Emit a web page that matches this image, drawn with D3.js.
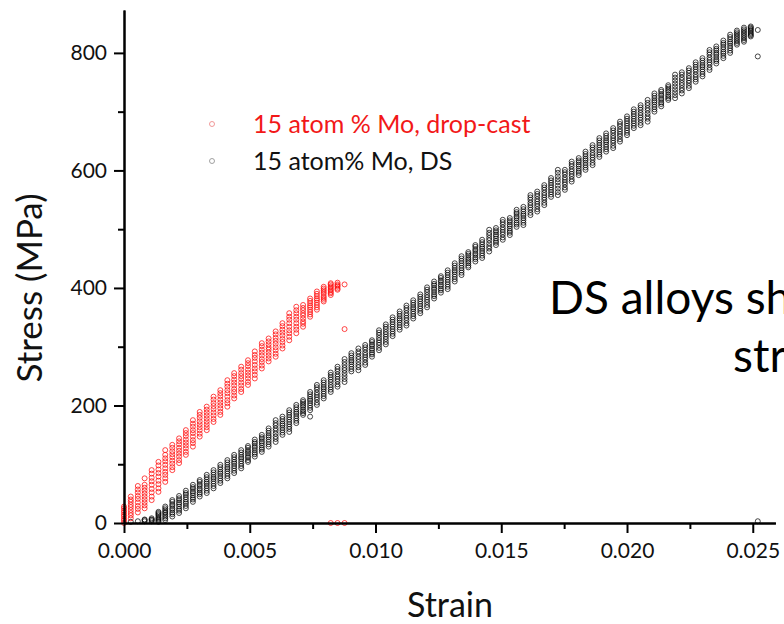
<!DOCTYPE html>
<html lang="en">
<head>
<meta charset="UTF-8">
<title>Stress vs Strain</title>
<style>
  *{margin:0;padding:0;}
  body{background:#fff;}
  svg{display:block;font-family:Lato, "Open Sans", sans-serif;}
</style>
</head>
<body>
<div id="container"></div>
<script src="https://cdn.jsdelivr.net/npm/d3@7/dist/d3.min.js"></script>
<script>
// drop-cast series: strain of each load step and the stress readings logged at it
const redStrain = [0, 0.00027, 0.00055, 0.00082, 0.0011, 0.00137, 0.00164, 0.00192, 0.00219, 0.00246,
  0.00274, 0.00301, 0.00329, 0.00356, 0.00383, 0.00411, 0.00438, 0.00466, 0.00493, 0.0052,
  0.00548, 0.00575, 0.00603, 0.0063, 0.00657, 0.00685, 0.00712, 0.0074, 0.00767, 0.00794,
  0.00822, 0.00849, 0.00877]
const redStress = [
  [0,4,7,11,14,18,21,25,28], [8,13,17,22,27,31,36,40,45], [18,24,29,35,41,46,52,57,63],
  [25,30,35,40,45,50,55,60,65,76], [39,45,52,58,65,71,77,84,90], [53,59,66,72,79,85,91,98,104],
  [70,76,82,87,93,99,105,110,116,124], [90,95,101,106,112,117,122,128,133], [102,107,113,118,123,128,134,139,144],
  [116,121,127,132,137,142,148,153,158], [130,136,141,147,153,158,164,169,175], [147,152,158,163,168,173,179,184,189],
  [158,163,168,173,178,183,188,193,198], [172,177,183,188,194,199,204,210,215], [184,189,195,200,205,210,216,221,226],
  [198,204,209,215,221,226,232,237,243], [212,217,223,228,234,239,244,250,255], [223,228,234,239,245,250,255,261,266],
  [235,240,246,251,256,261,267,272,277], [246,252,258,263,269,275,281,286,292], [263,268,274,279,285,290,295,301,306],
  [275,280,285,290,295,299,304,309,314], [283,288,294,299,305,310,315,321,326], [297,302,308,313,319,324,329,335,340],
  [311,317,323,328,334,340,346,351,357], [323,329,334,340,346,351,357,362,368], [334,339,343,348,353,357,362,366,371],
  [351,355,359,363,367,370,374,378,382], [363,367,371,375,379,382,386,390,394], [377,380,383,386,390,393,396,399,402],
  [388,391,393,396,398,401,403,406,408,0], [397,399,402,404,406,409,0], [406,330,0]
]

// DS series
const dsStrain = [0.00027, 0.00055, 0.00082, 0.0011, 0.00137, 0.00164, 0.00192, 0.00219, 0.00246, 0.00274,
  0.00301, 0.00329, 0.00356, 0.00383, 0.00411, 0.00438, 0.00466, 0.00493, 0.0052, 0.00548,
  0.00575, 0.00603, 0.0063, 0.00657, 0.00685, 0.00712, 0.0074, 0.00767, 0.00794, 0.00822,
  0.00849, 0.00877, 0.00904, 0.00932, 0.00959, 0.00986, 0.01014, 0.01041, 0.01068, 0.01096,
  0.01123, 0.0115, 0.01178, 0.01205, 0.01233, 0.0126, 0.01287, 0.01315, 0.01342, 0.01369,
  0.01397, 0.01424, 0.01452, 0.01479, 0.01506, 0.01534, 0.01561, 0.01588, 0.01616, 0.01643,
  0.01671, 0.01698, 0.01725, 0.01753, 0.0178, 0.01808, 0.01835, 0.01863, 0.0189, 0.01917,
  0.01945, 0.01972, 0.02, 0.02027, 0.02054, 0.02082, 0.02109, 0.02136, 0.02164, 0.02191,
  0.02218, 0.02246, 0.02273, 0.023, 0.02328, 0.02355, 0.02383, 0.0241, 0.02437, 0.02465,
  0.02492, 0.0252]
const dsStress = [
  [2], [3], [3,5,6], [3,5,6,8], [2,4,6,8,10,13,15,17,19], [5,8,11,14,17,19,22,25,28],
  [11,15,18,22,25,29,32,36,39], [17,21,24,28,32,35,39,42,46], [25,29,33,36,40,44,48,51,55],
  [36,40,43,47,51,54,58,61,65], [45,49,52,56,59,63,66,70,73], [51,55,59,63,67,70,74,78,82],
  [59,63,67,71,75,78,82,86,90], [68,72,76,80,84,87,91,95,99], [76,80,84,88,92,95,99,103,107],
  [85,89,93,97,101,104,108,112,116], [93,97,101,105,109,112,116,120,124], [104,107,111,114,118,121,124,128,131],
  [113,117,120,124,128,131,135,138,142], [121,125,128,132,136,139,143,146,150], [130,134,138,142,146,149,153,157,161],
  [138,143,147,152,157,161,166,170,175], [150,154,158,162,166,169,173,177,181], [160,164,168,172,176,180,184,188,192,155],
  [170,174,178,182,186,189,193,197,201], [184,187,190,193,197,200,203,206,209], [192,196,200,204,208,211,215,219,223,181],
  [201,205,210,214,218,222,227,231,235], [212,216,220,224,228,231,235,239,243], [223,227,231,235,240,244,248,252,256],
  [232,236,241,245,249,253,258,262,266], [240,245,250,255,260,264,269,274,279], [258,262,266,270,274,277,281,285,289],
  [260,265,269,274,279,283,288,292,297], [269,273,278,282,286,290,295,299,303], [283,287,290,294,297,301,304,308,311],
  [294,298,303,307,311,315,320,324,328], [304,308,313,317,321,325,330,334,338], [318,322,326,330,334,338,342,346,350],
  [329,333,337,341,345,348,352,356,360], [336,340,345,349,353,357,362,366,370], [348,352,356,360,364,367,371,375,379],
  [357,361,365,369,373,377,381,385,389], [367,371,376,380,384,388,393,397,401], [382,386,389,393,397,400,404,407,411],
  [392,396,399,403,406,410,413,417,420], [398,402,406,410,414,418,422,426,430], [411,415,419,423,427,430,434,438,442],
  [422,426,430,434,438,442,446,450,454], [435,438,442,445,448,451,455,458,461], [445,449,452,456,459,463,466,470,473],
  [451,455,459,463,467,470,474,478,482], [462,467,471,476,481,485,490,494,499], [473,477,480,484,488,491,495,498,502],
  [482,486,491,495,499,503,508,512,516], [490,494,497,501,505,508,512,515,519], [504,508,511,515,519,522,526,529,533],
  [507,511,515,519,523,526,530,534,538], [524,528,533,537,541,545,550,554,558], [530,534,539,543,547,551,556,560,564],
  [541,545,550,554,558,562,567,571,575], [555,559,563,567,571,575,579,583,587], [558,563,569,574,580,585,590,596,601],
  [567,571,576,580,584,588,593,597,601], [581,585,590,594,598,602,607,611,615], [592,596,599,603,607,610,614,617,621],
  [601,605,609,613,617,620,624,628,632], [609,613,618,622,626,630,635,639,643], [623,627,631,635,639,643,647,651,655],
  [632,636,640,644,648,651,655,659,663], [638,642,647,651,655,659,664,668,672], [649,653,658,662,666,670,675,679,683],
  [660,664,668,672,676,680,684,688,692], [672,676,680,684,688,692,696,700,704], [677,681,686,690,694,698,703,707,711],
  [683,688,692,697,702,706,711,715,720], [700,704,708,712,716,719,723,727,731], [709,713,716,720,723,727,730,734,737],
  [720,723,726,729,733,736,739,742,745], [723,728,733,738,743,748,753,758,763], [731,736,740,745,749,754,758,763,767],
  [740,744,749,753,757,761,766,770,774], [751,755,759,763,768,772,776,780,784], [760,764,768,772,776,779,783,787,791],
  [771,775,780,784,788,792,797,801,805], [782,786,789,793,797,800,804,807,811], [791,795,799,802,806,810,814,817,821],
  [800,804,808,812,816,819,823,827,831], [814,817,820,823,826,829,832,835,838], [819,822,825,828,831,834,837,840,843],
  [828,830,832,834,837,839,841,843,845], [839,794,3]
]

const xTicks = [0, 0.005, 0.010, 0.015, 0.020, 0.025]
const xMinor = [0.0025, 0.0075, 0.0125, 0.0175, 0.0225]
const yTicks = [0, 200, 400, 600, 800]
const yMinor = [100, 300, 500, 700]
const legendLabels = ['15 atom % Mo, drop-cast', '15 atom% Mo, DS']
const noteLines = ['DS alloys show higher', 'strength']

var W = 784, H = 624
var svg = d3.select('#container').append('svg').attr('width', W).attr('height', H)

var x = d3.scaleLinear().domain([0, 0.0259]).range([124, 775.4])
var y = d3.scaleLinear().domain([0, 873]).range([523, 10])

function pts(strain, stress){
  return strain.flatMap(function(s, i){ return stress[i].map(function(v){ return [s, v] }) })
}

// points
var g = svg.append('g')
g.selectAll('circle.ds').data(pts(dsStrain, dsStress)).enter().append('circle')
  .attr('class', 'ds')
  .attr('cx', d => x(d[0])).attr('cy', d => y(d[1])).attr('r', 2.5)
  .attr('fill', 'none').attr('stroke', '#000').attr('stroke-width', 0.8).attr('stroke-opacity', 0.9)
g.selectAll('circle.dc').data(pts(redStrain, redStress)).enter().append('circle')
  .attr('class', 'dc')
  .attr('cx', d => x(d[0])).attr('cy', d => y(d[1])).attr('r', 2.5)
  .attr('fill', 'none').attr('stroke', '#ff0a0a').attr('stroke-width', 0.8).attr('stroke-opacity', 0.95)

// axes
svg.append('g').attr('transform', 'translate(0,523)')
  .call(d3.axisBottom(x).tickValues(xTicks).tickFormat(d3.format('.3f')).tickSize(10).tickSizeOuter(0).tickPadding(10))
svg.append('g').attr('transform', 'translate(0,523)')
  .call(d3.axisBottom(x).tickValues(xMinor).tickFormat('').tickSize(6).tickSizeOuter(0))
svg.append('g').attr('transform', 'translate(124,0)')
  .call(d3.axisLeft(y).tickValues(yTicks).tickSize(10).tickSizeOuter(0).tickPadding(7))
svg.append('g').attr('transform', 'translate(124,0)')
  .call(d3.axisLeft(y).tickValues(yMinor).tickFormat('').tickSize(6).tickSizeOuter(0))

svg.selectAll('.domain').attr('stroke', '#000').attr('stroke-width', 2)
svg.selectAll('.tick line').attr('stroke', '#000').attr('stroke-width', 2)
svg.selectAll('.tick text').attr('font-family', 'Lato, "Open Sans", sans-serif').attr('font-size', 21).attr('fill', '#111')

// axis titles
svg.append('text').text('Strain')
  .attr('x', 450).attr('y', 617).attr('text-anchor', 'middle')
  .attr('font-size', 34).attr('fill', '#111')
svg.append('text').text('Stress (MPa)')
  .attr('transform', 'translate(42,288) rotate(-90)').attr('text-anchor', 'middle')
  .attr('font-size', 35).attr('fill', '#111')

// legend
var legColors = [['#ee8080', '#f21818'], ['#8a8a8a', '#111']]
var leg = svg.selectAll('g.leg').data(legendLabels).enter().append('g')
  .attr('class', 'leg').attr('transform', (d, i) => `translate(212,${124 + i * 37})`)
leg.append('circle').attr('r', 2.5).attr('fill', 'none')
  .attr('stroke', (d, i) => legColors[i][0]).attr('stroke-width', 0.8)
leg.append('text').text(d => d).attr('x', 41).attr('y', 9)
  .attr('font-size', 25).attr('fill', (d, i) => legColors[i][1])

// note on the right, cut off by the picture edge as in the source slide
svg.append('text').text(noteLines[0]).attr('x', 549).attr('y', 314)
  .attr('font-size', 46).attr('fill', '#000')
svg.append('text').text(noteLines[1]).attr('x', 733).attr('y', 372)
  .attr('font-size', 46).attr('fill', '#000')
</script>
</body>
</html>
